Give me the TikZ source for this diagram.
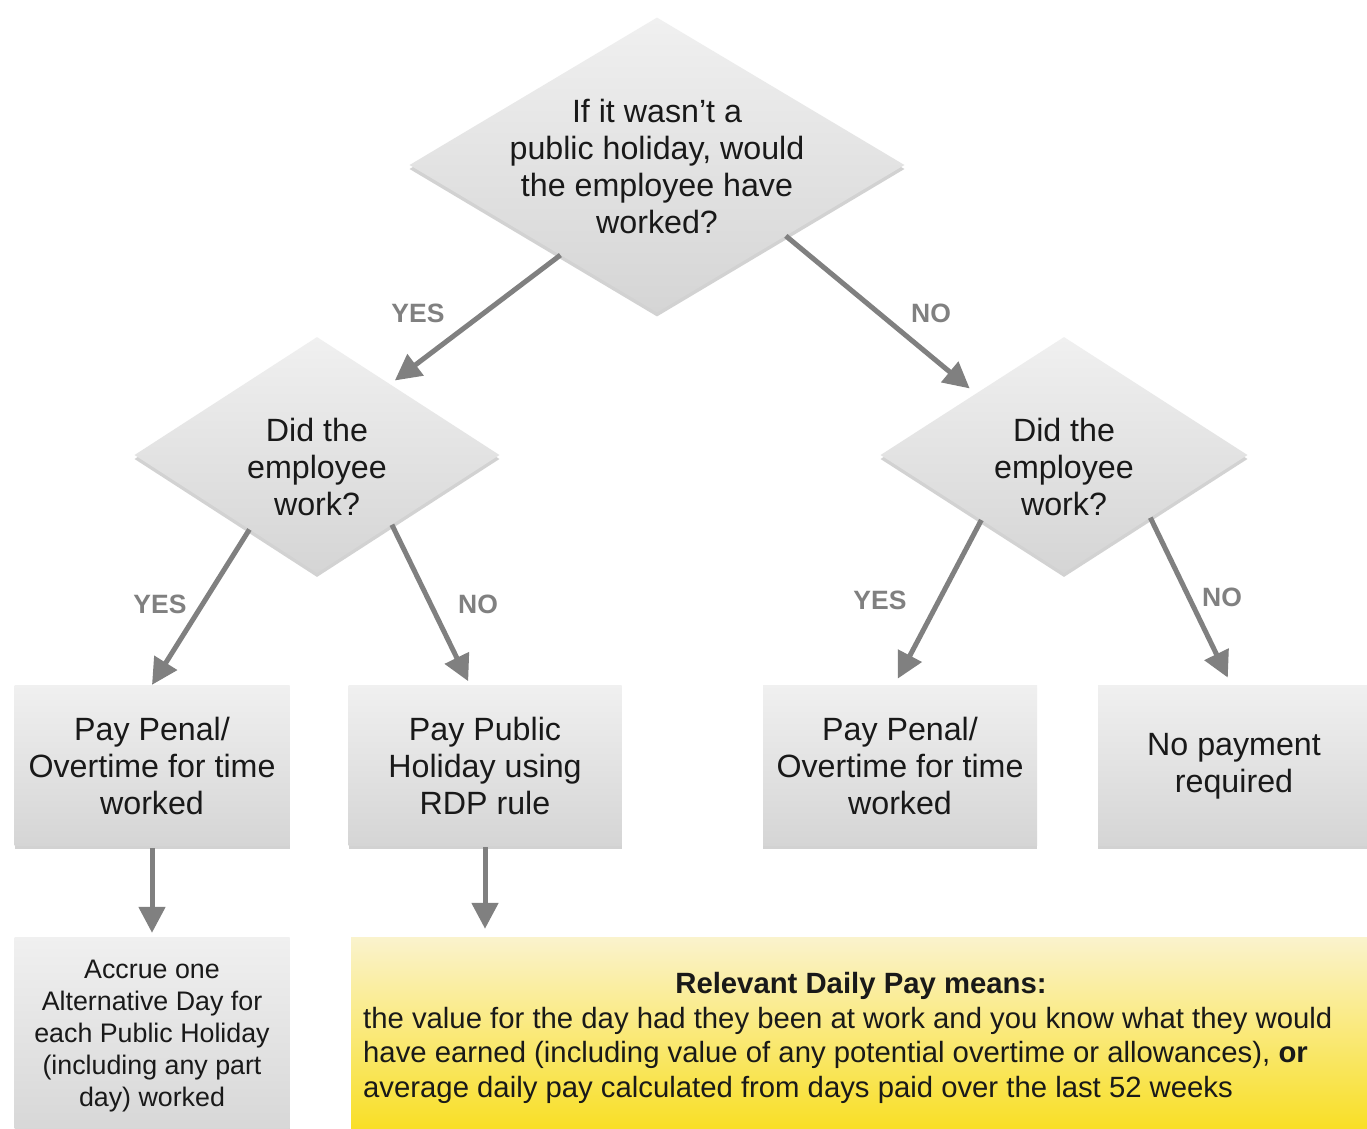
\documentclass[tikz,border=0pt]{standalone}
\usepackage{fontspec}
\setmainfont{Liberation Sans}
\usetikzlibrary{shapes.geometric,shadows,arrows.meta,calc}
\definecolor{boxtop}{RGB}{240,240,240}
\definecolor{boxbot}{RGB}{213,213,213}
\definecolor{arrowgray}{RGB}{128,128,128}
\definecolor{ytop}{RGB}{250,243,205}
\definecolor{ybot}{RGB}{249,221,22}
\definecolor{ink}{RGB}{25,25,25}
\begin{document}
\begin{tikzpicture}[x=1pt,y=-1pt,
  shadowed/.style={drop shadow={shadow xshift=0pt,shadow yshift=-4pt,opacity=0.25,fill=black!70}},
  decision/.style={diamond, top color=boxtop, bottom color=boxbot, shadowed, inner sep=0pt, draw=none},
  stepbox/.style={rectangle, top color=boxtop, bottom color=boxbot, shadowed, inner sep=0pt, draw=none, minimum height=160pt},
  bigtext/.style={align=center, text=ink, inner sep=0pt, font=\fontsize{32.2}{37}\selectfont},
  midtext/.style={align=center, text=ink, inner sep=0pt, font=\fontsize{26.8}{32.2}\selectfont},
  conn/.style={draw=arrowgray, line width=5pt, -{Triangle[length=26pt,width=26pt]}},
  lbl/.style={text=arrowgray, inner sep=0pt, font=\fontsize{26.5}{30}\selectfont\bfseries}]
\useasboundingbox (0,0) rectangle (1367,1128);
\fill[white] (0,0) rectangle (1367,1128);

% decisions
\node[decision, minimum width=495pt, minimum height=295pt] (d1) at (657,165) {};
\node[bigtext] (d1t) at (657,166) {If it wasn’t a\\public holiday, would\\the employee have\\worked?};
\node[decision, minimum width=365pt, minimum height=236pt] (d2) at (317,455) {};
\node[bigtext] (d2t) at (317,467) {Did the\\employee\\work?};
\node[decision, minimum width=367pt, minimum height=236pt] (d3) at (1064,455) {};
\node[bigtext] (d3t) at (1064,467) {Did the\\employee\\work?};

% boxes
\node[stepbox, minimum width=275pt] (b1) at (152,765) {};
\node[bigtext] (b1t) at (152,766) {Pay Penal/\\Overtime for time\\worked};
\node[stepbox, minimum width=273pt] (b2) at (485,765) {};
\node[bigtext] (b2t) at (485,766) {Pay Public\\Holiday using\\RDP rule};
\node[stepbox, minimum width=274pt] (b3) at (900,765) {};
\node[bigtext] (b3t) at (900,766) {Pay Penal/\\Overtime for time\\worked};
\node[stepbox, minimum width=272pt] (b4) at (1234,765) {};
\node[bigtext] (b4t) at (1234,766) {No payment\\required};

\node[stepbox, minimum width=275pt, minimum height=210pt] (b5) at (152,1042) {};
\node[midtext] (b5t) at (152,1036) {Accrue one\\Alternative Day for\\each Public Holiday\\(including any part\\day) worked};

\node[rectangle, top color=ytop, bottom color=ybot, shadowed, inner sep=0pt, minimum width=1030pt, minimum height=210pt] (yb) at (866,1042) {};
\node[text=ink, inner sep=0pt, font=\fontsize{29.3}{34}\selectfont\bfseries] (ybt) at (861,986) {Relevant Daily Pay means:};
\node[anchor=west, align=left, inner sep=0pt, text=ink, font=\fontsize{29.3}{34.5}\selectfont] (ybb) at (363,1055) {the value for the day had they been at work and you know what they would\\have earned (including value of any potential overtime or allowances), \textbf{or}\\average daily pay calculated from days paid over the last 52 weeks};

% connectors
\draw[conn, shorten >=6pt] ($(d1.west)!0.61!(d1.south)$) -- ($(d2.north)!0.40!(d2.east)$);
\draw[conn, shorten >=8pt] ($(d1.south)!0.52!(d1.east)$) -- ($(d3.west)!0.52!(d3.north)$);
\draw[conn] ($(d2.west)!0.63!(d2.south)$) -- ($(b1.north west)!0.50!(b1.north east)$);
\draw[conn, shorten >=4pt] ($(d2.south)!0.41!(d2.east)$) -- ($(b2.north west)!0.445!(b2.north east)$);
\draw[conn, shorten >=7pt] ($(d3.west)!0.55!(d3.south)$) -- ($(b3.north west)!0.48!(b3.north east)$);
\draw[conn, shorten >=8pt] ($(d3.south)!0.47!(d3.east)$) -- ($(b4.north west)!0.49!(b4.north east)$);
\draw[conn, shorten <=3pt, shorten >=4pt] (b1.south) -- (b5.north);
\draw[conn, shorten <=2pt, shorten >=8pt] (b2.south) -- (b2.south |- yb.north);

% labels
\node[lbl] (l1) at (418,313) {YES};
\node[lbl] (l2) at (931,313) {NO};
\node[lbl] (l3) at (160,604) {YES};
\node[lbl] (l4) at (478,604) {NO};
\node[lbl] (l5) at (880,600) {YES};
\node[lbl] (l6) at (1222,597) {NO};
\end{tikzpicture}
\end{document}
